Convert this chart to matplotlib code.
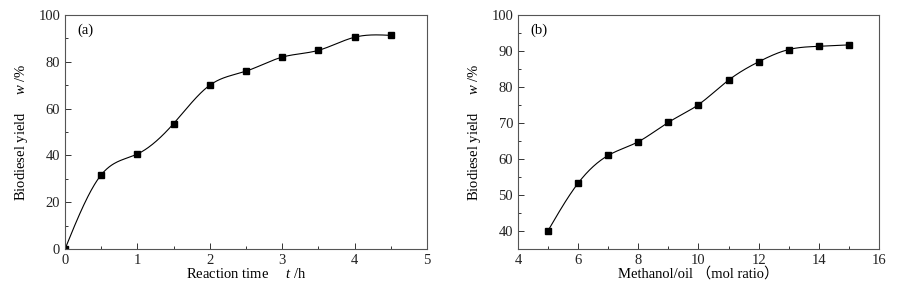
import numpy as np
import matplotlib
matplotlib.use("Agg")
import matplotlib.pyplot as plt
from matplotlib.ticker import MultipleLocator

plt.rcParams['font.family'] = ['Liberation Serif', 'Noto Sans CJK SC']
plt.rcParams['mathtext.fontset'] = 'custom'
plt.rcParams['mathtext.rm'] = 'Liberation Serif'
plt.rcParams['mathtext.it'] = 'Liberation Serif:italic'

# Data
time_h = [0, 0.5, 1.0, 1.5, 2.0, 2.5, 3.0, 3.5, 4.0, 4.5]
yield_time = [0, 31.7, 40.6, 53.6, 70.0, 76.0, 82.0, 84.9, 90.5, 91.3]
ratio = [5, 6, 7, 8, 9, 10, 11, 12, 13, 14, 15]
yield_ratio = [40.1, 53.3, 61.0, 64.8, 70.2, 75.1, 81.9, 87.0, 90.4, 91.3, 91.7]


def natural_spline(x, y, n=400):
    x = np.asarray(x, float); y = np.asarray(y, float)
    m = len(x); h = np.diff(x)
    A = np.zeros((m, m)); b = np.zeros(m)
    A[0, 0] = A[-1, -1] = 1
    for i in range(1, m - 1):
        A[i, i - 1] = h[i - 1]; A[i, i] = 2 * (h[i - 1] + h[i]); A[i, i + 1] = h[i]
        b[i] = 3 * ((y[i + 1] - y[i]) / h[i] - (y[i] - y[i - 1]) / h[i - 1])
    c = np.linalg.solve(A, b)
    xs = np.linspace(x[0], x[-1], n)
    idx = np.clip(np.searchsorted(x, xs) - 1, 0, m - 2)
    dx = xs - x[idx]
    bb = (y[1:] - y[:-1]) / h - h * (2 * c[:-1] + c[1:]) / 3
    d = (c[1:] - c[:-1]) / (3 * h)
    ys = y[idx] + bb[idx] * dx + c[idx] * dx ** 2 + d[idx] * dx ** 3
    return xs, ys


fig = plt.figure(figsize=(8.98, 2.88), dpi=100)
ax1 = fig.add_axes([0.0724, 0.1354, 0.4031, 0.8125])
ax2 = fig.add_axes([0.5768, 0.1354, 0.4020, 0.8125])

fs = 10.5
for ax, x, y in [(ax1, time_h, yield_time), (ax2, ratio, yield_ratio)]:
    xs, ys = natural_spline(x, y)
    ax.plot(xs, ys, color='black', lw=0.8)
    ax.plot(x, y, 's', color='black', ms=4.5)
    ax.tick_params(which='both', direction='in', labelsize=fs, colors='#333333', labelcolor='#222222')
    ax.tick_params(which='major', length=4, width=0.7)
    ax.tick_params(which='minor', length=2.5, width=0.7)
    for s in ax.spines.values():
        s.set_linewidth(0.8)
        s.set_color('#555555')

ax1.set_xlim(0, 5); ax1.set_ylim(0, 100)
ax1.xaxis.set_major_locator(MultipleLocator(1)); ax1.xaxis.set_minor_locator(MultipleLocator(0.5))
ax1.yaxis.set_major_locator(MultipleLocator(20)); ax1.yaxis.set_minor_locator(MultipleLocator(10))
ax1.set_xlabel(r'Reaction time     $t$ /h', fontsize=fs, labelpad=0)
ax1.set_ylabel(r'Biodiesel yield     $w$ /%', fontsize=fs, labelpad=6)
ax1.text(0.033, 0.935, '(a)', transform=ax1.transAxes, fontsize=fs, va='center')

ax2.set_xlim(4, 16); ax2.set_ylim(35, 100)
ax2.xaxis.set_major_locator(MultipleLocator(2)); ax2.xaxis.set_minor_locator(MultipleLocator(1))
ax2.yaxis.set_major_locator(MultipleLocator(10)); ax2.yaxis.set_minor_locator(MultipleLocator(5))
ax2.set_xlabel('Methanol/oil （mol ratio）', fontsize=fs, labelpad=0)
ax2.set_ylabel(r'Biodiesel yield     $w$ /%', fontsize=fs, labelpad=6)
ax2.text(0.033, 0.935, '(b)', transform=ax2.transAxes, fontsize=fs, va='center')

fig.savefig('out.png', dpi=100)
